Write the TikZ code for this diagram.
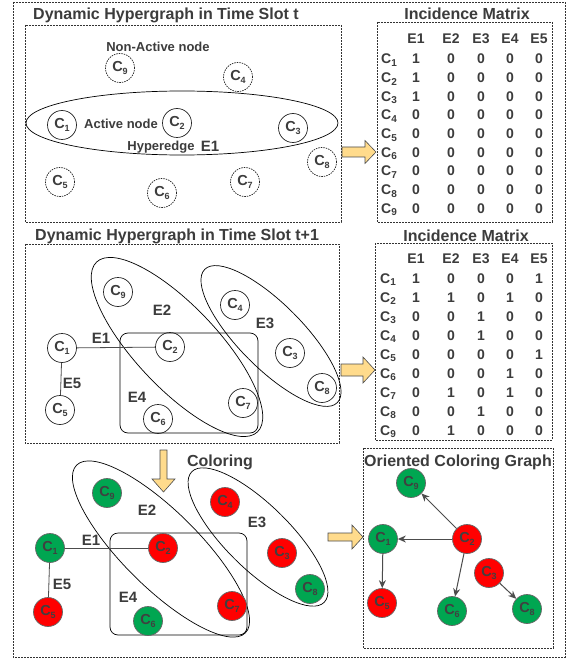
\documentclass[tikz,border=0pt]{standalone}
\usepackage{fontspec}
\setmainfont{Liberation Sans}
\usetikzlibrary{arrows.meta}
\definecolor{tc}{HTML}{3C3C3C}
\definecolor{gfill}{HTML}{00A651}
\definecolor{rfill}{HTML}{FF0000}
\definecolor{yfill}{HTML}{FFDB8C}
\newcommand{\nlab}[1]{C\raisebox{-2.5pt}{\fontsize{9}{9}\selectfont #1}}
\newcommand{\mlab}[1]{C\raisebox{-2.6pt}{\fontsize{10}{10}\selectfont #1}}
\begin{document}
\begin{tikzpicture}[x=1pt,y=-1pt,
  frame/.style={draw=black!80, line width=0.8pt, dash pattern=on 2pt off 1pt},
  ttl/.style={font=\fontsize{16}{16}\selectfont\bfseries, text=tc, inner sep=0pt, anchor=base},
  lbl/.style={font=\fontsize{13}{13}\selectfont\bfseries, text=tc, inner sep=0pt},
  elbl/.style={font=\fontsize{15}{15}\selectfont\bfseries, text=tc, inner sep=0pt},
  cell/.style={font=\fontsize{14}{14}\selectfont\bfseries, text=tc, inner sep=0pt, anchor=base},
  vnode/.style={circle, minimum size=29pt, inner sep=0pt, line width=0.7pt, font=\fontsize{14.5}{14.5}\selectfont\bfseries, text=tc},
  act/.style={vnode, draw=black!85},
  inact/.style={vnode, draw=black!85, dash pattern=on 1.5pt off 1pt},
  gnode/.style={vnode, draw=black!60, fill=gfill, text=black!75},
  rnode/.style={vnode, draw=black!60, fill=rfill, text=black!75},
  hedge/.style={draw=black, line width=0.7pt},
  link/.style={draw=black!70, line width=0.8pt},
  darr/.style={draw=black!70, line width=1pt, -{Stealth[length=8pt,width=7pt]}},
  blk/.style={draw=black!70, fill=yfill, line width=0.6pt, line join=miter},
]
\useasboundingbox (0,0) rectangle (573,660);
\fill[white] (0,0) rectangle (573,660);

% frames
\draw[frame] (13,2) rectangle (565,657);
\draw[frame] (25,25) rectangle (341,222);
\draw[frame] (377,22) rectangle (552,222);
\draw[frame] (25,244) rectangle (339,443);
\draw[frame] (375,243) rectangle (552,440);
\draw[frame] (363,448) rectangle (553,648);

% titles
\node[ttl, anchor=base west] (t1) at (33,20) {Dynamic Hypergraph in Time Slot t};
\node[ttl] (t2) at (467,20) {Incidence Matrix};
\node[ttl, anchor=base west] (t3) at (35,240) {Dynamic Hypergraph in Time Slot t+1};
\node[ttl] (t4) at (466,241) {Incidence Matrix};
\node[ttl] (t5) at (220,466) {Coloring};
\node[ttl] (t6) at (458,466) {Oriented Coloring Graph};

% ---------- hypergraph at t ----------
\draw[hedge] (182,123) ellipse (156pt and 32pt);
\node[act] (a1) at (62,125) {\nlab{1}};
\node[act] (a2) at (177,123) {\nlab{2}};
\node[act] (a3) at (293,128) {\nlab{3}};
\node[inact] (a4) at (238,77) {\nlab{4}};
\node[inact] (a5) at (60,182) {\nlab{5}};
\node[inact] (a6) at (162,193) {\nlab{6}};
\node[inact] (a7) at (245,182) {\nlab{7}};
\node[inact] (a8) at (322,162) {\nlab{8}};
\node[inact] (a9) at (120,68) {\nlab{9}};
\node[lbl] (na) at (158,47) {Non-Active node};
\node[lbl] (an) at (121,124) {Active node};
\node[lbl] (he) at (161,147) {Hyperedge};
\node[elbl] (he1) at (210,146) {E1};

% ---------- incidence matrices ----------
\foreach \j in {1,...,5} {
  \pgfmathsetmacro\xc{{416,451,481,510,539}[\j-1]}
  \node[cell] (mah\j) at (\xc,44) {E\j};
  \node[cell] (mbh\j) at (\xc,263) {E\j};
}
\foreach \i/\r in {1/{1,0,0,0,0},2/{1,0,0,0,0},3/{1,0,0,0,0},4/{0,0,0,0,0},5/{0,0,0,0,0},6/{0,0,0,0,0},7/{0,0,0,0,0},8/{0,0,0,0,0},9/{0,0,0,0,0}} {
  \pgfmathsetmacro\yb{64+(\i-1)*18.63}
  \node[cell, anchor=base west] (mar\i) at (381,\yb) {\mlab{\i}};
  \foreach \v [count=\j] in \r {
    \pgfmathsetmacro\xc{{416,451,481,510,539}[\j-1]}
    \node[cell] (mav\i\j) at (\xc,\yb) {\v};
  }
}
\foreach \i/\r in {1/{1,0,0,0,1},2/{1,1,0,1,0},3/{0,0,1,0,0},4/{0,0,1,0,0},5/{0,0,0,0,1},6/{0,0,0,1,0},7/{0,1,0,1,0},8/{0,0,1,0,0},9/{0,1,0,0,0}} {
  \pgfmathsetmacro\yb{283+(\i-1)*19}
  \node[cell, anchor=base west] (mbr\i) at (380,\yb) {\mlab{\i}};
  \foreach \v [count=\j] in \r {
    \pgfmathsetmacro\xc{{416,451,481,510,539}[\j-1]}
    \node[cell] (mbv\i\j) at (\xc,\yb) {\v};
  }
}

% ---------- hypergraph at t+1 ----------
\draw[hedge, rounded corners=8pt] (120,333) rectangle (258,433);
\draw[hedge, rotate around={-46.6:(177,347)}] (177,347) ellipse (117pt and 41pt);
\draw[hedge, rotate around={-45.2:(271,336)}] (271,336) ellipse (94pt and 32pt);
\node[act] (b1) at (62,348) {\nlab{1}};
\node[act] (b2) at (170,347) {\nlab{2}};
\node[act] (b3) at (290,353) {\nlab{3}};
\node[act] (b4) at (235,305) {\nlab{4}};
\node[act] (b5) at (60,410) {\nlab{5}};
\node[act] (b6) at (158,419) {\nlab{6}};
\node[act] (b7) at (243,403) {\nlab{7}};
\node[act] (b8) at (322,388) {\nlab{8}};
\node[act] (b9) at (118,292) {\nlab{9}};
\draw[link] (b1) -- (b2);
\draw[link] (b1) -- (b5);
\node[elbl] (be1) at (101,338) {E1};
\node[elbl] (be2) at (162,310) {E2};
\node[elbl] (be3) at (265,323) {E3};
\node[elbl] (be4) at (137,397) {E4};
\node[elbl] (be5) at (72,383) {E5};

% ---------- coloring ----------
\draw[hedge, rounded corners=8pt] (110,533) rectangle (247,635);
\draw[hedge, rotate around={-44.8:(161,549)}] (161,549) ellipse (119pt and 38pt);
\draw[hedge, rotate around={-44.6:(258,537)}] (258,537) ellipse (93pt and 32pt);
\node[gnode] (c1) at (50,548) {\nlab{1}};
\node[rnode] (c2) at (163,548) {\nlab{2}};
\node[rnode] (c3) at (282,553) {\nlab{3}};
\node[rnode] (c4) at (225,502) {\nlab{4}};
\node[rnode] (c5) at (48,612) {\nlab{5}};
\node[gnode] (c6) at (148,621) {\nlab{6}};
\node[rnode] (c7) at (232,606) {\nlab{7}};
\node[gnode] (c8) at (310,589) {\nlab{8}};
\node[gnode] (c9) at (107,493) {\nlab{9}};
\draw[link] (c1) -- (c2);
\draw[link] (c1) -- (c5);
\node[elbl] (ce1) at (91,540) {E1};
\node[elbl] (ce2) at (147,510) {E2};
\node[elbl] (ce3) at (257,522) {E3};
\node[elbl] (ce4) at (128,597) {E4};
\node[elbl] (ce5) at (62,584) {E5};

% ---------- oriented coloring graph ----------
\node[gnode] (d9) at (411,483) {\nlab{9}};
\node[gnode] (d1) at (383,539) {\nlab{1}};
\node[rnode] (d2) at (467,539) {\nlab{2}};
\node[rnode] (d3) at (489,573) {\nlab{3}};
\node[rnode] (d5) at (382,603) {\nlab{5}};
\node[gnode] (d6) at (452,611) {\nlab{6}};
\node[gnode] (d8) at (527,609) {\nlab{8}};
\draw[darr] (d2) -- (d9);
\draw[darr] (d2) -- (d1);
\draw[darr] (d2) -- (d6);
\draw[darr] (d1) -- (d5);
\draw[darr] (d3) -- (d8);

% ---------- block arrows ----------
\draw[blk] (342,147) -- (365,147) -- (365,140.5) -- (376,152) -- (365,163.5) -- (365,157) -- (342,157) -- cycle;
\draw[blk] (341,364) -- (363,364) -- (363,357) -- (375,370) -- (363,383) -- (363,376) -- (341,376) -- cycle;
\draw[blk] (328,533) -- (352,533) -- (352,525) -- (363,537) -- (352,549) -- (352,541) -- (328,541) -- cycle;
\draw[blk] (160,450) -- (167,450) -- (167,479) -- (175,479) -- (163.5,492) -- (152,479) -- (160,479) -- cycle;
\end{tikzpicture}
\end{document}
